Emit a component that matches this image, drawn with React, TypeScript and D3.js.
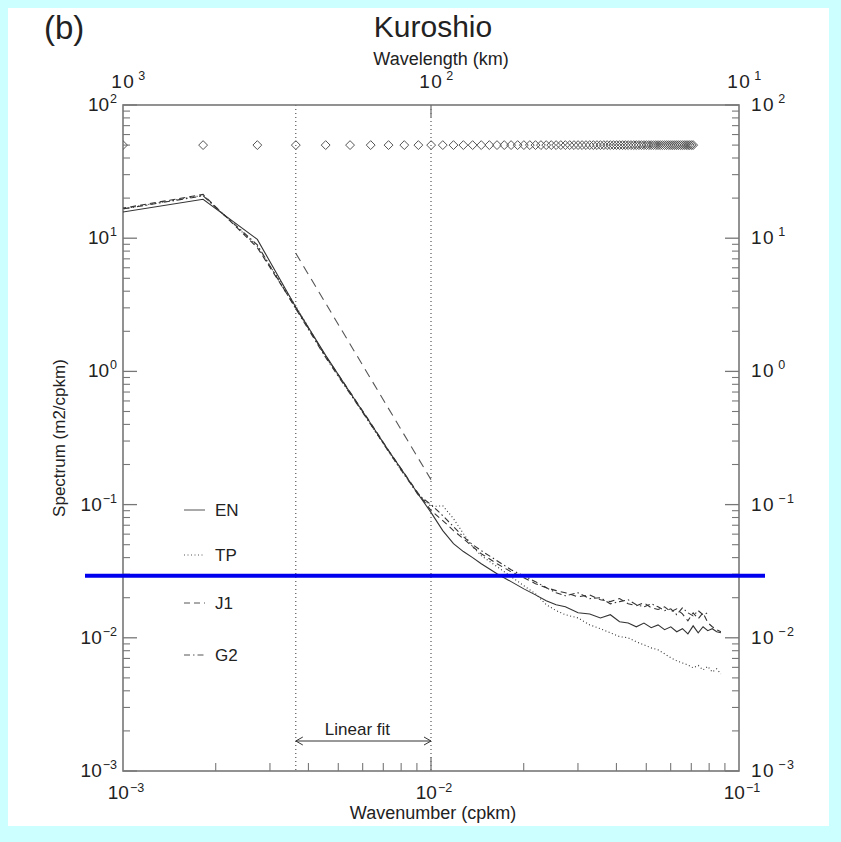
import React from "react";
import * as d3 from "d3";

// Wavenumbers (cpkm) of the resolved harmonics, drawn as the diamond row
const HARMONIC_K = [
  0.001, 0.00182, 0.00273, 0.00364, 0.00455, 0.00546, 0.00637, 0.00728, 0.00819, 0.0091,
  0.01001, 0.01092, 0.01183, 0.01274, 0.01365, 0.01456, 0.01547, 0.01638, 0.01729, 0.0182,
  0.01911, 0.02002, 0.02093, 0.02184, 0.02275, 0.02366, 0.02457, 0.02548, 0.02639, 0.0273,
  0.02821, 0.02912, 0.03003, 0.03094, 0.03185, 0.03276, 0.03367, 0.03458, 0.03549, 0.0364,
  0.03731, 0.03822, 0.03913, 0.04004, 0.04095, 0.04186, 0.04277, 0.04368, 0.04459, 0.0455,
  0.04641, 0.04732, 0.04823, 0.04914, 0.05005, 0.05096, 0.05187, 0.05278, 0.05369, 0.0546,
  0.05551, 0.05642, 0.05733, 0.05824, 0.05915, 0.06006, 0.06097, 0.06188, 0.06279, 0.0637,
  0.06461, 0.06552, 0.06643, 0.06734, 0.06825, 0.06916, 0.07007, 0.07098,
];
const HARMONIC_LEVEL = 50;

// Spectrum sample wavenumbers (cpkm)
const WAVENUMBER = [
  0.00091, 0.00182, 0.00273, 0.00364, 0.00455, 0.00546, 0.00637, 0.00728, 0.00819, 0.0091,
  0.01001, 0.01092, 0.01183, 0.01274, 0.01365, 0.01456, 0.01638, 0.0182, 0.02002, 0.02184,
  0.02366, 0.02548, 0.0273, 0.03003, 0.03276, 0.03549, 0.03822, 0.04095, 0.04368, 0.04641,
  0.04914, 0.05187, 0.0546, 0.05733, 0.06006, 0.06279, 0.06552, 0.06825, 0.07098, 0.07371,
  0.07644, 0.07917, 0.0819, 0.08463, 0.08736,
];

// Spectral density (m2/cpkm) per data set
const EN = [
  15.2, 19.6, 9.8, 3.03, 1.32, 0.695, 0.406, 0.255, 0.171, 0.119,
  0.0871, 0.0638, 0.0509, 0.0444, 0.04, 0.036, 0.0303, 0.0264, 0.0233, 0.021,
  0.019, 0.0177, 0.0171, 0.0154, 0.0151, 0.0141, 0.0149, 0.0132, 0.0129, 0.0121,
  0.0129, 0.0119, 0.0125, 0.0115, 0.0121, 0.0111, 0.0117, 0.0107, 0.0123, 0.0109,
  0.0121, 0.0113, 0.0117, 0.0111, 0.0109,
];
const TP = [
  16.0, 21.0, 8.7, 3.1, 1.29, 0.685, 0.4, 0.25, 0.168, 0.119,
  0.0967, 0.098, 0.0785, 0.0606, 0.0483, 0.0414, 0.0342, 0.0288, 0.0246, 0.0214,
  0.0177, 0.016, 0.0149, 0.0141, 0.0125, 0.0117, 0.0109, 0.0102, 0.01, 0.00933,
  0.00885, 0.0084, 0.00812, 0.00758, 0.00708, 0.00671, 0.00648, 0.00626, 0.00595, 0.0062,
  0.00574, 0.0061, 0.00554, 0.00585, 0.00536,
];
const J1 = [
  16.2, 21.3, 8.5, 3.0, 1.3, 0.7, 0.41, 0.255, 0.172, 0.121,
  0.09, 0.0759, 0.0638, 0.0555, 0.0483, 0.0428, 0.036, 0.0313, 0.0282, 0.0255,
  0.0238, 0.0226, 0.0218, 0.0203, 0.021, 0.0193, 0.0187, 0.0197, 0.018, 0.0174,
  0.0183, 0.0168, 0.0163, 0.0171, 0.0157, 0.0165, 0.0151, 0.0134, 0.0154, 0.0139,
  0.0154, 0.013, 0.0121, 0.0115, 0.0111,
];
const G2 = [
  16.0, 20.8, 8.9, 2.95, 1.27, 0.68, 0.4, 0.25, 0.168, 0.118,
  0.1, 0.0826, 0.0683, 0.0574, 0.05, 0.0451, 0.0379, 0.0324, 0.0292, 0.0264,
  0.0238, 0.0218, 0.0207, 0.0218, 0.0197, 0.02, 0.018, 0.0187, 0.0193, 0.0177,
  0.0171, 0.018, 0.0171, 0.016, 0.0165, 0.0149, 0.0168, 0.0154, 0.0146, 0.016,
  0.0149, 0.0154, null, null, null,
];

// Power-law fit over the fitting band
const FIT_K = [0.00364, 0.01];
const FIT_V = [7.7, 0.154];

// Fitting band limits (cpkm)
const FIT_BAND = [0.00364, 0.01];

// Highlighted reference level (m2/cpkm)
const REFERENCE_LEVEL = 0.0292;

const SERIES = [
  { name: "EN", values: EN, dash: "none" },
  { name: "TP", values: TP, dash: "1,2.5" },
  { name: "J1", values: J1, dash: "6,4" },
  { name: "G2", values: G2, dash: "6,3,1.5,3" },
];

const X_TICK_EXP = [-3, -2, -1];
const Y_TICK_EXP = [2, 1, 0, -1, -2, -3];
const TOP_TICK_EXP = [3, 2, 1];

const W = 841;
const H = 842;
const M = { left: 123, right: 739, top: 105, bottom: 771 };
const FONT = "'Liberation Sans', Arial, Helvetica, sans-serif";
const INK = "#333";
const FRAME = "#777";

function Pow10({ x, y, exp, anchor, size = 19, spaced = false, rise = 8 }) {
  const e = exp < 0 ? "\u2212" + Math.abs(exp) : String(exp);
  return (
    <text x={x} y={y} textAnchor={anchor} fontFamily={FONT} fontSize={size} fill="#222"
      letterSpacing={spaced ? 1.5 : 0}>
      10
      <tspan dx={spaced ? 3 : 1} dy={-rise} fontSize={size * 0.66}>{e}</tspan>
    </text>
  );
}

export default function App() {
  const x = d3.scaleLog().domain([1e-3, 1e-1]).range([M.left, M.right]);
  const y = d3.scaleLog().domain([1e-3, 1e2]).range([M.bottom, M.top]);
  const xTop = d3.scaleLog().domain([1e3, 1e1]).range([M.left, M.right]);

  const line = d3
    .line<[number, number | null]>()
    .defined((d) => d[1] != null)
    .x((d) => x(d[0]))
    .y((d) => y(d[1] as number));

  const minorX: number[] = [];
  for (const e of [-3, -2]) for (let m = 2; m <= 9; m++) minorX.push(m * Math.pow(10, e));
  const minorY: number[] = [];
  for (let e = -3; e <= 1; e++) for (let m = 2; m <= 9; m++) minorY.push(m * Math.pow(10, e));

  const diamond = d3.symbol().type(d3.symbolDiamond2).size(50)();
  const fitBand = FIT_BAND.map((k) => x(k));
  const legendY = [510, 555, 603, 655];
  const yRef = y(REFERENCE_LEVEL);
  const midX = (M.left + M.right) / 2;

  return (
    <svg width={W} height={H} style={{ position: "absolute", left: 0, top: 0 }}
      xmlns="http://www.w3.org/2000/svg">
      <defs>
        <clipPath id="plot-area">
          <rect x={M.left} y={M.top} width={M.right - M.left} height={M.bottom - M.top} />
        </clipPath>
      </defs>
      <rect x={0} y={0} width={W} height={H} fill="#ccffff" />
      <rect x={8} y={8} width={821} height={818} fill="#ffffff" />

      {/* Titles */}
      <text x={44} y={39} fontFamily={FONT} fontSize={33} fill="#222">(b)</text>
      <text x={midX + 2} y={37} textAnchor="middle" fontFamily={FONT} fontSize={30} fill="#222">Kuroshio</text>
      <text x={midX + 10} y={65} textAnchor="middle" fontFamily={FONT} fontSize={18} fill="#222">Wavelength (km)</text>
      <text x={midX + 2} y={819} textAnchor="middle" fontFamily={FONT} fontSize={18} fill="#222">Wavenumber (cpkm)</text>
      <text transform={`translate(65,${(M.top + M.bottom) / 2}) rotate(-90)`} textAnchor="middle"
        fontFamily={FONT} fontSize={17} fill="#222">Spectrum (m2/cpkm)</text>

      {/* Fitting band limits */}
      {fitBand.map((px, i) => (
        <line key={i} x1={px} x2={px} y1={M.top} y2={M.bottom} stroke={INK} strokeWidth={1}
          strokeDasharray="1,3" />
      ))}

      {/* Frame and ticks */}
      <rect x={M.left} y={M.top} width={M.right - M.left} height={M.bottom - M.top} fill="none"
        stroke={FRAME} strokeWidth={1.6} />
      {Y_TICK_EXP.map((e) => (
        <g key={e}>
          <line x1={M.left} x2={M.left + 14} y1={y(Math.pow(10, e))} y2={y(Math.pow(10, e))} stroke={FRAME} strokeWidth={1.3} />
          <line x1={M.right} x2={M.right - 14} y1={y(Math.pow(10, e))} y2={y(Math.pow(10, e))} stroke={FRAME} strokeWidth={1.3} />
        </g>
      ))}
      {minorY.map((v, i) => (
        <g key={i}>
          <line x1={M.left} x2={M.left + 7} y1={y(v)} y2={y(v)} stroke={FRAME} strokeWidth={1.1} />
          <line x1={M.right} x2={M.right - 7} y1={y(v)} y2={y(v)} stroke={FRAME} strokeWidth={1.1} />
        </g>
      ))}
      {minorX.map((k, i) => (
        <line key={i} x1={x(k)} x2={x(k)} y1={M.bottom} y2={M.bottom - 8} stroke={FRAME} strokeWidth={1.1} />
      ))}
      <line x1={x(1e-2)} x2={x(1e-2)} y1={M.bottom} y2={M.bottom - 14} stroke={FRAME} strokeWidth={1.3} />
      <line x1={xTop(100)} x2={xTop(100)} y1={M.top} y2={M.top + 12} stroke={FRAME} strokeWidth={1.3} />

      {/* Tick labels */}
      {Y_TICK_EXP.map((e) => (
        <g key={e}>
          <Pow10 x={M.left - 6} y={y(Math.pow(10, e)) + 6} exp={e} anchor="end" />
          <Pow10 x={M.right + 12} y={y(Math.pow(10, e)) + 6} exp={e} anchor="start" spaced />
        </g>
      ))}
      {X_TICK_EXP.map((e) => (
        <Pow10 key={e} x={x(Math.pow(10, e)) + 3} y={799} exp={e} anchor="middle" rise={7} />
      ))}
      {TOP_TICK_EXP.map((e) => (
        <Pow10 key={e} x={xTop(Math.pow(10, e)) + 6} y={88} exp={e} anchor="middle" spaced />
      ))}

      {/* Harmonic wavenumbers */}
      <g clipPath="url(#plot-area)">
        {HARMONIC_K.map((k, i) => (
          <path key={i} d={diamond as string} transform={`translate(${x(k)},${y(HARMONIC_LEVEL)})`}
            fill="none" stroke="#555" strokeWidth={1} />
        ))}
      </g>

      {/* Spectra */}
      <g clipPath="url(#plot-area)" fill="none" stroke={INK} strokeWidth={1.1}>
        {SERIES.map((s) => (
          <path key={s.name}
            d={line(WAVENUMBER.map((k, i) => [k, s.values[i]] as [number, number | null])) as string}
            strokeDasharray={s.dash === "none" ? undefined : s.dash} />
        ))}
        <path d={line(FIT_K.map((k, i) => [k, FIT_V[i]] as [number, number])) as string}
          strokeDasharray="9,6" stroke="#555" />
      </g>

      {/* Legend */}
      {SERIES.map((s, i) => (
        <g key={s.name}>
          <line x1={184} x2={205} y1={legendY[i]} y2={legendY[i]} stroke="#555" strokeWidth={1}
            strokeDasharray={s.dash === "none" ? undefined : s.dash} />
          <text x={215} y={legendY[i] + 6} fontFamily={FONT} fontSize={17} fill="#222">{s.name}</text>
        </g>
      ))}

      {/* Fitting band annotation */}
      <g stroke={INK} strokeWidth={1} fill="none">
        <line x1={fitBand[0]} x2={fitBand[1]} y1={741} y2={741} />
        <polyline points={`${fitBand[0] + 7},${737} ${fitBand[0]},${741} ${fitBand[0] + 7},${745}`} />
        <polyline points={`${fitBand[1] - 7},${737} ${fitBand[1]},${741} ${fitBand[1] - 7},${745}`} />
      </g>
      <text x={(fitBand[0] + fitBand[1]) / 2 - 6} y={735} textAnchor="middle" fontFamily={FONT}
        fontSize={17} fill="#222">Linear fit</text>

      {/* Reference level */}
      <line x1={M.left - 38} x2={M.right + 26} y1={yRef} y2={yRef} stroke="#0000ee" strokeWidth={4} />
    </svg>
  );
}
